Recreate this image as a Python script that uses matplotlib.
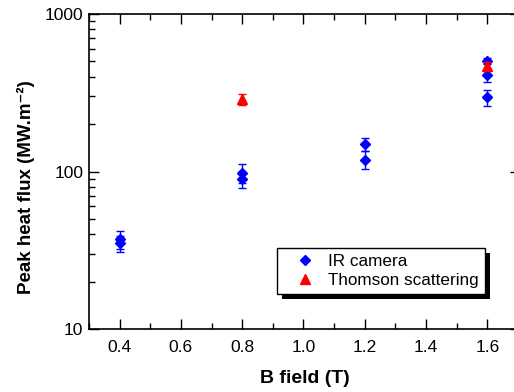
import matplotlib
matplotlib.use("Agg")
import matplotlib.pyplot as plt
from matplotlib.patches import Rectangle
from matplotlib.lines import Line2D
from matplotlib.ticker import MultipleLocator, LogLocator, NullFormatter

plt.rcParams['font.family'] = ['Liberation Sans', 'DejaVu Sans']

# IR camera data
ir_b = [0.4, 0.4, 0.8, 0.8, 1.2, 1.2, 1.6, 1.6, 1.6]
ir_q = [37, 35, 98, 89, 149, 119, 505, 410, 296]
ir_err = [5, 4, 13, 11, 14, 15, 25, 40, 35]

# Thomson scattering data
ts_b = [0.8, 1.6]
ts_q = [288, 466]
ts_err = [22, 30]

fig = plt.figure(figsize=(5.14, 3.92), dpi=100)
ax = fig.add_axes([0.173, 0.161, 0.8385, 0.803])

ax.errorbar(ir_b, ir_q, yerr=ir_err, fmt='D', color='blue', ms=5.5,
            capsize=3, elinewidth=1, capthick=1, zorder=3)
ax.errorbar(ts_b, ts_q, yerr=ts_err, fmt='^', color='red', ms=7,
            capsize=3, elinewidth=1, capthick=1, zorder=4)

ax.set_yscale('log')
ax.set_xlim(0.3, 1.706)
ax.set_ylim(10, 1000)
ax.xaxis.set_major_locator(MultipleLocator(0.2))
ax.xaxis.set_minor_locator(MultipleLocator(0.1))
ax.yaxis.set_minor_locator(LogLocator(base=10, subs=range(2, 10)))
ax.yaxis.set_minor_formatter(NullFormatter())
ax.set_yticks([10, 100, 1000])
ax.set_yticklabels(['10', '100', '1000'])
ax.set_xticks([0.4, 0.6, 0.8, 1.0, 1.2, 1.4, 1.6])
ax.set_xticklabels(['0.4', '0.6', '0.8', '1.0', '1.2', '1.4', '1.6'])

ax.tick_params(which='both', direction='in', top=True, right=True,
               labelsize=12.5, width=1)
ax.tick_params(which='major', length=7)
ax.tick_params(which='minor', length=4)
ax.tick_params(axis='x', pad=8)
ax.tick_params(axis='y', pad=4)
for s in ax.spines.values():
    s.set_linewidth(1.2)

ax.set_xlabel('B field (T)', fontsize=14, fontweight='bold', labelpad=11)
ax.set_ylabel('Peak heat flux (MW.m\u207b\u00b2)', fontsize=13.5,
              fontweight='bold')
ax.yaxis.set_label_coords(-0.125, 0.45)

handles = [
    Line2D([], [], ls='none', marker='D', color='blue', ms=5.5),
    Line2D([], [], ls='none', marker='^', color='red', ms=7),
]
leg = ax.legend(handles, ['IR camera', 'Thomson scattering'],
                loc='lower left', bbox_to_anchor=(0.436, 0.111),
                borderaxespad=0, fancybox=False, edgecolor='black',
                framealpha=1, fontsize=12.3, handletextpad=0.05,
                borderpad=0.35, labelspacing=0.25, handlelength=2.6)
leg.get_frame().set_linewidth(1)
leg.set_zorder(6)

fig.canvas.draw()
bb = leg.get_window_extent()
inv = ax.transAxes.inverted()
(x0, y0) = inv.transform((bb.x0 + 5, bb.y0 - 5))
(x1, y1) = inv.transform((bb.x1 + 5, bb.y1 - 5))
ax.add_patch(Rectangle((x0, y0), x1 - x0, y1 - y0, transform=ax.transAxes,
                       facecolor='black', edgecolor='none', zorder=5,
                       clip_on=False))

fig.savefig('out.png', dpi=100)
